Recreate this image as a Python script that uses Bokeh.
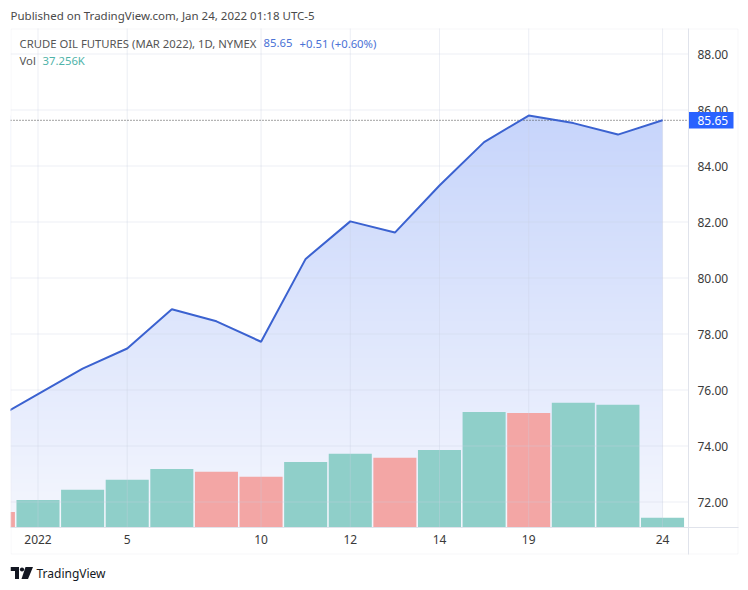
import numpy as np
from bokeh.plotting import figure
from bokeh.models import (Range1d, FixedTicker, NumeralTickFormatter, Label,
                          BoxAnnotation)
from bokeh.embed import file_html
from bokeh.resources import INLINE

# ---------------- data ----------------
dates = ["2021-12-31", "2022-01-03", "2022-01-04", "2022-01-05", "2022-01-06",
         "2022-01-07", "2022-01-10", "2022-01-11", "2022-01-12", "2022-01-13",
         "2022-01-14", "2022-01-18", "2022-01-19", "2022-01-20", "2022-01-21",
         "2022-01-24"]
close = [74.96, 75.87, 76.78, 77.50, 78.90, 78.47, 77.74, 80.70, 82.04, 81.64,
         83.32, 84.87, 85.82, 85.55, 85.14, 85.65]
volume_k = [60, 106, 145, 183, 225, 214, 195, 252, 283, 268, 298, 444, 440,
            479, 471, 37.256]
direction = ["down", "up", "up", "up", "up", "down", "down", "up", "up", "down",
             "up", "up", "down", "up", "up", "up"]
tick_dates = ["2022-01-03", "2022-01-05", "2022-01-10", "2022-01-12",
              "2022-01-14", "2022-01-19", "2022-01-24"]
tick_labels = ["2022", "5", "10", "12", "14", "19", "24"]
price_ticks = [72, 74, 76, 78, 80, 82, 84, 86, 88]

title_text = "CRUDE OIL FUTURES (MAR 2022), 1D, NYMEX"
last_price_text = "85.65"
change_text = "+0.51 (+0.60%)"
vol_text = "37.256K"
published_text = "Published on TradingView.com, Jan 24, 2022 01:18 UTC-5"

# ---------------- layout helpers (page pixels -> data) ----------------
X1_PX, DX_PX = 37.5, 44.61      # page x of bar 1, bar spacing
Y88_PX, DY_PX = 54.0, 28.0      # page y of 88.00, px per 1.00
CH_L, CH_R, CH_T, CH_B = 10, 688, 28, 527   # chart pane
BOX_R, BOX_B = 738, 554                      # outer box incl. axis panes
VOL_PX = 37.256 / 9.7           # thousand contracts per pixel
W, H = 748, 590


def sx(px):
    return 1 + (px - X1_PX) / DX_PX


def sy(py):
    return 88 - (py - Y88_PX) / DY_PX


FONT = "Noto Sans"
GRID = "#e0e3eb"
idx = list(range(len(dates)))
tick_idx = [dates.index(d) for d in tick_dates]

p = figure(width=W, height=H,
           x_range=Range1d(sx(CH_L), sx(W)),
           y_range=Range1d(sy(H), sy(0)),
           y_axis_location="right", title_location=None,
           output_backend="svg", toolbar_location=None,
           min_border_left=CH_L, min_border_right=0,
           min_border_top=0, min_border_bottom=0,
           background_fill_color="white", border_fill_color="white",
           outline_line_color=None)
p.extra_y_ranges = {"vol": Range1d(-(H - CH_B) * VOL_PX, CH_B * VOL_PX)}
p.xgrid.visible = False
p.ygrid.visible = False

# ---- area: vertical gradient image, masked above the line ----
top_px = Y88_PX + (88 - max(close)) * DY_PX
nrows = int(round(CH_B - top_px))
c_top = np.array([199, 213, 251], dtype=float)
c_bot = np.array([245, 247, 254], dtype=float)
t = np.linspace(0.0, 1.0, nrows)[:, None]          # row 0 = bottom
rgb = c_bot + (c_top - c_bot) * t
img = np.empty((nrows, 2), dtype=np.uint32)
view = img.view(dtype=np.uint8).reshape((nrows, 2, 4))
for k in range(3):
    view[:, :, k] = rgb[:, k:k + 1].astype(np.uint8)
view[:, :, 3] = 255
x0 = sx(CH_L)
p.image_rgba(image=[img], x=x0, y=sy(CH_B), dw=idx[-1] - x0,
             dh=max(close) - sy(CH_B))
p.varea(x=idx, y1=close, y2=sy(CH_T), fill_color="white")

# volume bars
colors = ["#8fcfc9" if d == "up" else "#f3a6a5" for d in direction]
p.vbar(x=idx, width=0.965, bottom=0, top=volume_k, fill_color=colors,
       line_color=None, y_range_name="vol")

# grid lines limited to the chart pane
half = 0.5 / DY_PX
p.segment(x0=sx(CH_L), x1=sx(CH_R), y0=[v + half for v in price_ticks],
          y1=[v + half for v in price_ticks], line_color="#c8cfe0",
          line_alpha=0.35, line_width=1)
p.segment(x0=tick_idx, x1=tick_idx, y0=sy(CH_B), y1=sy(CH_T),
          line_color="#c8cfe0", line_alpha=0.35, line_width=1)

# last price dotted line
p.segment(x0=sx(CH_L), x1=sx(CH_R), y0=close[-1], y1=close[-1],
          line_color="#444444", line_dash="1 2", line_width=1)

# price line
p.line(idx, close, line_width=2, line_color="#3b62d0")

# axes drawn at fixed places
p.yaxis.ticker = FixedTicker(ticks=price_ticks)
p.yaxis.formatter = NumeralTickFormatter(format="0.00")
p.yaxis.fixed_location = sx(CH_R)
p.yaxis.bounds = (sy(BOX_B), sy(CH_T))
p.xaxis.ticker = FixedTicker(ticks=tick_idx)
p.xaxis.major_label_overrides = {i: s for i, s in zip(tick_idx, tick_labels)}
p.xaxis.fixed_location = sy(CH_B)
p.xaxis.bounds = (sx(CH_L), sx(BOX_R))
for ax in (p.xaxis[0], p.yaxis[0]):
    ax.major_tick_line_color = None
    ax.minor_tick_line_color = None
    ax.major_tick_out = 0
    ax.major_tick_in = 0
    ax.minor_tick_out = 0
    ax.minor_tick_in = 0
    ax.axis_line_color = GRID
    ax.major_label_text_font = FONT
    ax.major_label_text_font_size = "12px"
    ax.major_label_text_color = "#3a3a3a"
p.yaxis.major_label_standoff = 9
p.xaxis.major_label_standoff = 7

# outer box
p.add_layout(BoxAnnotation(left=sx(CH_L + 0.5), right=sx(BOX_R - 0.5),
                           top=sy(CH_T + 0.5), bottom=sy(BOX_B - 0.5),
                           fill_alpha=0, line_color=GRID, line_width=1))

# last price tag
p.add_layout(BoxAnnotation(left=sx(CH_R + 0.5), right=sx(733), top=sy(111.5),
                           bottom=sy(128), fill_color="#2962ff", fill_alpha=1,
                           line_color=None))
p.add_layout(Label(x=sx(697), y=close[-1], text="%.2f" % close[-1],
                   text_color="white", text_baseline="middle",
                   text_font=FONT, text_font_size="12px"))

# texts
def label(px, py, text, size, color, style="normal"):
    p.add_layout(Label(x=sx(px), y=sy(py), text=text, text_baseline="middle",
                       text_font=FONT, text_font_size=size,
                       text_font_style=style, text_color=color))


label(10, 15, published_text, "11.5px", "#4a4a4a")
label(19, 42.5, title_text, "11.3px", "#555555")
label(263, 42.5, last_price_text, "11.3px", "#4a72d6")
label(299, 42.5, change_text, "11.3px", "#4a72d6")
label(19, 59.5, "Vol", "11.3px", "#555555")
label(42, 59.5, vol_text, "11.3px", "#4fb3a9")
label(36, 572.5, "TradingView", "12px", "#131722")

# TradingView logo mark
logo_xs = [[10, 18.5, 18.5, 14.5, 14.5, 10],
           [25, 32.5, 27.5, 21]]
logo_ys = [[566.5, 566.5, 578.5, 578.5, 570.5, 570.5],
           [566.5, 566.5, 578.5, 578.5]]
p.patches(xs=[[sx(v) for v in xs] for xs in logo_xs],
          ys=[[sy(v) for v in ys] for ys in logo_ys],
          fill_color="#131722", line_color=None)
p.circle(x=[sx(21.5)], y=[sy(569)], radius=2.1 / DX_PX,
         fill_color="#131722", line_color=None)

open("out.html", "w").write(file_html(p, INLINE))
